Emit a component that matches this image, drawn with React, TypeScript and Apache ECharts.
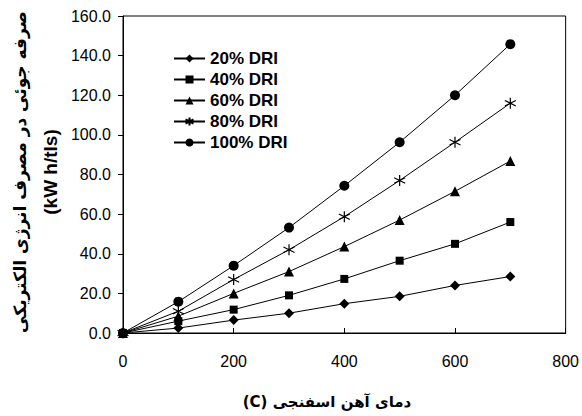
import React, { useEffect, useRef } from "react";
import * as echarts from "echarts";

const temps = [0, 100, 200, 300, 400, 500, 600, 700];
const seriesNames = ["20% DRI", "40% DRI", "60% DRI", "80% DRI", "100% DRI"];
const dri20 = [0, 2.5, 6.5, 10, 14.8, 18.5, 24, 28.5];
const dri40 = [0, 6, 11.8, 19, 27.3, 36.5, 45, 56];
const dri60 = [0, 8.5, 20, 31, 43.6, 57, 71.5, 86.8];
const dri80 = [0, 11, 27, 42, 58.7, 77, 96.3, 116];
const dri100 = [0, 15.8, 34, 53.2, 74.3, 96.3, 120, 145.8];
const yTitle = "صرفه جوئی در مصرف انرژی الکتریکی";
const yUnit = "(kW h/tls)";
const xTitle = "(C) دمای آهن اسفنجی";

const asterisk = "path://M5 0 L5 10 M0.7 2.5 L9.3 7.5 M0.7 7.5 L9.3 2.5";
const tickFont = "Liberation Sans, Arial, sans-serif";

export default function App() {
  const ref = useRef<HTMLDivElement>(null);
  useEffect(() => {
    const chart = echarts.init(ref.current!, null, { renderer: "svg" });
    const values = [dri20, dri40, dri60, dri80, dri100];
    const symbols = ["diamond", "rect", "triangle", asterisk, "circle"];
    const sizes = [10, 8, 10, 11, 10];
    const series = values.map((vals, i) => ({
      name: seriesNames[i],
      type: "line",
      data: temps.map((t, j) => [t, vals[j]]),
      symbol: symbols[i],
      symbolSize: sizes[i],
      showSymbol: true,
      lineStyle: { color: "#000", width: 1 },
      itemStyle:
        i === 3
          ? { color: "rgba(0,0,0,0)", borderColor: "#000", borderWidth: 1.2 }
          : { color: "#000", borderWidth: 0 },
      z: 2 + i,
    }));
    chart.setOption({
      animation: false,
      backgroundColor: "#fff",
      grid: { left: 123, right: 12, top: 16, bottom: 83, show: true, borderColor: "#000", borderWidth: 1 },
      legend: {
        orient: "vertical",
        left: 168,
        top: 45,
        itemWidth: 31,
        itemHeight: 10,
        itemGap: 4,
        data: seriesNames,
        textStyle: {
          fontFamily: "Liberation Sans, Arial, sans-serif",
          fontWeight: "bold",
          fontSize: 17,
          color: "#000",
        },
      },
      xAxis: {
        type: "value",
        min: 0,
        max: 800,
        interval: 200,
        axisLine: { lineStyle: { color: "#000", width: 1 } },
        axisTick: { inside: true, length: 5, lineStyle: { color: "#000" } },
        splitLine: { show: false },
        axisLabel: {
          margin: 20,
          fontSize: 16,
          color: "#000",
          fontFamily: tickFont,
        },
      },
      yAxis: {
        type: "value",
        min: 0,
        max: 160,
        interval: 20,
        axisLine: { show: true, lineStyle: { color: "#000", width: 1 } },
        axisTick: { show: true, length: 5, lineStyle: { color: "#000" } },
        splitLine: { show: false },
        axisLabel: {
          margin: 12,
          fontSize: 16,
          color: "#000",
          formatter: (v: number) => v.toFixed(1),
          fontFamily: tickFont,
        },
      },
      graphic: [
        {
          type: "text",
          x: 20,
          y: 172,
          rotation: Math.PI / 2,
          style: {
            text: yTitle,
            fontSize: 17,
            fontWeight: "bold",
            fontFamily: "DejaVu Sans, sans-serif",
            fill: "#000",
            align: "center",
            verticalAlign: "middle",
          },
        },
        {
          type: "text",
          x: 50,
          y: 172,
          rotation: Math.PI / 2,
          style: {
            text: yUnit,
            fontSize: 19,
            fontWeight: "bold",
            fontFamily: "Liberation Sans, Arial, sans-serif",
            fill: "#000",
            align: "center",
            verticalAlign: "middle",
          },
        },
        {
          type: "text",
          x: 327,
          y: 402,
          style: {
            text: xTitle,
            fontSize: 15,
            fontWeight: "bold",
            fontFamily: "DejaVu Sans, sans-serif",
            fill: "#000",
            align: "center",
            verticalAlign: "middle",
          },
        },
      ],
      series,
    });
    return () => chart.dispose();
  }, []);
  return <div ref={ref} style={{ width: 582, height: 416, position: "absolute", left: 0, top: 0 }} />;
}
